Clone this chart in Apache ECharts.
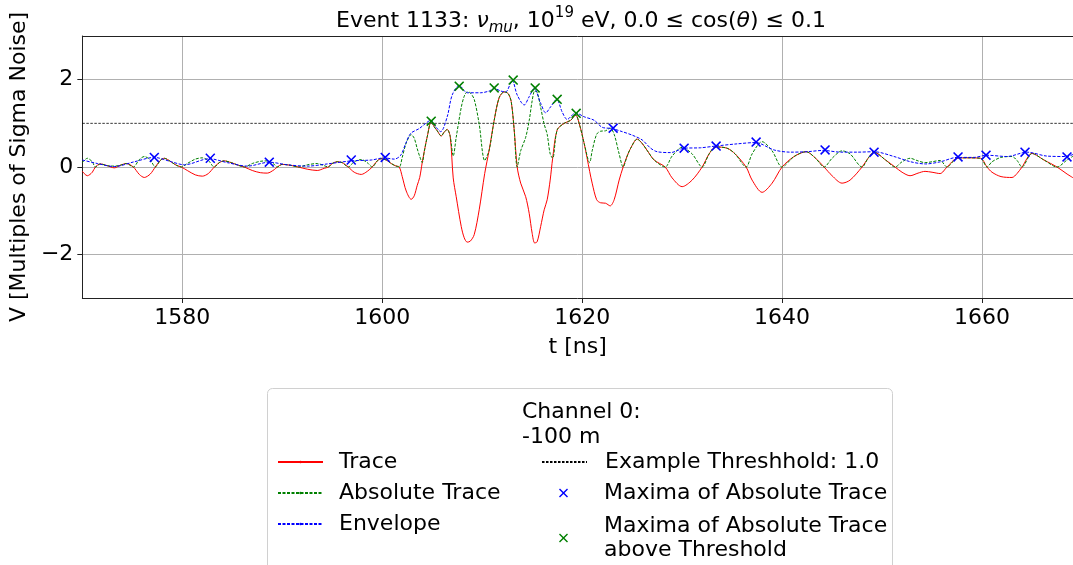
<!DOCTYPE html>
<html><head><meta charset="utf-8">
<script src="https://cdn.jsdelivr.net/npm/echarts@6/dist/echarts.min.js"></script>
<style>html,body{margin:0;padding:0;background:#fff}#c{width:1073px;height:565px}</style>
</head><body><div id="c"></div>
<script>
// ---------- data ----------
const traceTime = [1570.0,1570.5,1571.0,1571.3,1571.8,1572.5,1573.2,1573.8,1574.4,1575.1,1575.7,1576.2,1576.8,1577.3,1577.8,1578.2,1578.8,1579.4,1579.9,1580.5,1581.3,1582.0,1582.6,1583.2,1583.7,1584.2,1584.9,1585.6,1586.2,1587.0,1587.8,1588.5,1589.2,1589.5,1590.0,1590.8,1591.6,1592.5,1593.5,1594.2,1594.6,1595.0,1595.5,1596.0,1596.6,1597.2,1597.9,1598.5,1599.0,1599.5,1599.9,1600.4,1600.9,1601.3,1601.7,1602.0,1602.4,1602.9,1603.2,1603.5,1603.75,1604.0,1604.2,1604.5,1604.9,1605.2,1605.5,1605.9,1606.2,1606.5,1606.8,1607.1,1607.4,1607.9,1608.2,1608.5,1608.8,1609.2,1609.7,1610.25,1610.7,1611.2,1611.7,1612.2,1612.6,1612.9,1613.2,1613.5,1613.85,1614.35,1614.7,1615.0,1615.25,1615.5,1615.85,1616.2,1616.5,1616.8,1617.05,1617.5,1618.2,1618.85,1619.35,1619.7,1620.2,1620.75,1621.0,1621.45,1621.85,1622.35,1622.8,1623.2,1623.7,1624.1,1624.5,1624.85,1625.5,1626.0,1626.5,1627.2,1628.3,1629.0,1630.0,1631.0,1632.0,1632.7,1633.35,1634.5,1635.3,1636.4,1637.0,1638.0,1639.0,1640.0,1641.2,1642.4,1643.35,1644.2,1645.0,1646.0,1646.8,1648.0,1648.6,1649.2,1650.35,1651.3,1652.0,1652.8,1653.6,1654.3,1655.0,1655.8,1656.5,1657.5,1658.5,1659.85,1660.5,1661.0,1661.9,1663.0,1663.5,1664.0,1665.0,1666.2,1667.5,1668.5,1669.2];
const traceValues = [-0.10,-0.20,-0.12,0.00,0.07,0.03,-0.02,0.04,0.08,0.00,-0.17,-0.24,-0.16,0.00,0.15,0.20,0.13,0.04,0.00,-0.08,-0.18,-0.21,-0.15,0.00,0.10,0.14,0.10,0.04,0.00,-0.08,-0.13,-0.14,-0.06,0.00,0.06,0.04,0.00,-0.05,-0.08,-0.03,0.00,0.08,0.12,0.10,0.00,-0.12,-0.17,-0.10,0.00,0.14,0.19,0.16,0.08,0.03,0.00,-0.22,-0.55,-0.74,-0.66,-0.42,-0.24,0.10,0.35,0.69,1.04,0.92,0.83,0.71,0.80,0.86,0.70,-0.25,-0.68,-1.36,-1.62,-1.72,-1.70,-1.55,-0.98,-0.15,0.39,1.07,1.59,1.72,1.68,1.50,0.85,0.00,-0.37,-0.68,-1.06,-1.52,-1.74,-1.71,-1.36,-0.98,-0.75,-0.30,0.20,0.85,1.00,1.07,1.19,1.00,0.54,-0.10,-0.37,-0.75,-0.82,-0.83,-0.89,-0.75,-0.30,0.00,0.25,0.43,0.64,0.54,0.38,0.16,0.00,-0.25,-0.45,-0.30,0.00,0.30,0.46,0.43,0.30,0.00,-0.30,-0.58,-0.37,0.00,0.24,0.35,0.20,0.00,-0.20,-0.37,-0.30,0.00,0.20,0.34,0.16,0.00,-0.12,-0.20,-0.14,-0.10,-0.12,-0.15,0.00,0.20,0.21,0.20,0.00,-0.12,-0.22,-0.24,-0.15,0.00,0.31,0.16,0.00,-0.16,-0.26];
const absTraceValues = [0.10,0.20,0.12,0.00,0.07,0.03,0.02,0.04,0.08,0.00,0.17,0.24,0.16,0.00,0.15,0.20,0.13,0.04,0.00,0.08,0.18,0.21,0.15,0.00,0.10,0.14,0.10,0.04,0.00,0.08,0.13,0.14,0.06,0.00,0.06,0.04,0.00,0.05,0.08,0.03,0.00,0.08,0.12,0.10,0.00,0.12,0.17,0.10,0.00,0.14,0.19,0.16,0.08,0.03,0.00,0.22,0.55,0.74,0.66,0.42,0.24,0.10,0.35,0.69,1.04,0.92,0.83,0.71,0.80,0.86,0.70,0.25,0.68,1.36,1.62,1.72,1.70,1.55,0.98,0.15,0.39,1.07,1.59,1.72,1.68,1.50,0.85,0.00,0.37,0.68,1.06,1.52,1.74,1.71,1.36,0.98,0.75,0.30,0.20,0.85,1.00,1.07,1.19,1.00,0.54,0.10,0.37,0.75,0.82,0.83,0.89,0.75,0.30,0.00,0.25,0.43,0.64,0.54,0.38,0.16,0.00,0.25,0.45,0.30,0.00,0.30,0.46,0.43,0.30,0.00,0.30,0.58,0.37,0.00,0.24,0.35,0.20,0.00,0.20,0.37,0.30,0.00,0.20,0.34,0.16,0.00,0.12,0.20,0.14,0.10,0.12,0.15,0.00,0.20,0.21,0.20,0.00,0.12,0.22,0.24,0.15,0.00,0.31,0.16,0.00,0.16,0.26];
const envelopeTime = [1570.0,1571.5,1573.2,1575.2,1577.2,1578.9,1580.2,1582.7,1584.5,1586.5,1588.7,1590.5,1592.5,1594.5,1596.9,1598.9,1600.2,1601.2,1601.85,1602.35,1602.85,1603.7,1604.35,1604.85,1605.35,1605.85,1606.5,1607.0,1607.7,1608.5,1609.85,1610.7,1611.2,1611.85,1612.35,1613.0,1613.5,1614.2,1614.7,1615.2,1615.85,1616.35,1616.85,1617.45,1618.0,1618.5,1619.35,1620.2,1621.2,1622.0,1623.0,1624.0,1625.0,1626.0,1626.85,1627.5,1628.85,1630.2,1631.85,1633.35,1635.5,1637.35,1639.2,1640.85,1642.5,1644.1,1645.85,1647.5,1649.2,1651.2,1652.85,1654.35,1655.85,1657.5,1659.2,1660.45,1662.5,1664.5,1666.5,1668.5,1669.2];
const envelopeValues = [0.16,0.08,0.01,0.12,0.22,0.12,0.05,0.19,0.10,0.02,0.11,0.05,0.02,0.07,0.14,0.16,0.21,0.18,0.27,0.54,0.77,0.88,1.00,1.07,0.92,0.81,1.15,1.65,1.87,1.70,1.70,1.74,1.80,1.74,1.72,1.98,1.65,1.42,1.61,1.80,1.46,1.24,1.38,1.55,1.26,1.09,1.24,1.15,1.07,0.91,0.88,0.81,0.73,0.62,0.43,0.35,0.33,0.43,0.44,0.48,0.53,0.56,0.39,0.34,0.35,0.38,0.34,0.34,0.35,0.24,0.12,0.07,0.12,0.22,0.22,0.27,0.24,0.34,0.25,0.24,0.30];
const maximaTime = [1577.2,1582.8,1588.7,1596.9,1600.3,1623.1,1630.2,1633.4,1637.4,1644.3,1649.2,1657.6,1660.4,1664.3,1668.5];
const maximaValues = [0.22,0.20,0.11,0.16,0.22,0.89,0.43,0.48,0.57,0.39,0.34,0.23,0.27,0.34,0.23];
const maximaAboveTime = [1604.9,1607.7,1611.2,1613.1,1615.3,1617.5,1619.4];
const maximaAboveValues = [1.05,1.85,1.81,1.99,1.81,1.55,1.23];
const threshold = 1.0;
const xTicks = [1580,1600,1620,1640,1660];
const yTicks = [-2,0,2];
const xMin = 1570, xMax = 1669.1, yMin = -3, yMax = 3;

// ---------- chart ----------
const FONT = 'DejaVu Sans';
const FS = 22;
const zip = (a, b) => a.map((v, i) => [v, b[i]]);
const XPATH = 'path://M0,1.1 L1.1,0 L5,3.9 L8.9,0 L10,1.1 L6.1,5 L10,8.9 L8.9,10 L5,6.1 L1.1,10 L0,8.9 L3.9,5 Z';
const chart = echarts.init(document.getElementById('c'), null, {renderer: 'canvas'});
const legendText = {fontSize: FS, fontFamily: FONT, color: '#000', lineHeight: 24, padding: [0, 0, 0, 11]};
const legendText2 = Object.assign({}, legendText, {padding: [0, 0, 0, 13]});
const axisFont = {fontSize: FS, fontFamily: FONT, color: '#000'};
chart.setOption({
  animation: false,
  backgroundColor: '#fff',
  title: {
    text: 'Event 1133: {i|ν}{sub|mu}, 10{sup|19} eV, 0.0 ≤ cos({i|θ}) ≤ 0.1',
    left: 576, top: 1, textAlign: 'center',
    textStyle: {
      fontSize: FS, fontWeight: 'normal', fontFamily: FONT, color: '#000', lineHeight: 30,
      rich: {
        i: {fontSize: FS, fontStyle: 'italic', fontFamily: FONT, color: '#000'},
        sub: {fontSize: 15, fontStyle: 'italic', fontFamily: FONT, color: '#000', verticalAlign: 'bottom', lineHeight: 15},
        sup: {fontSize: 15, fontFamily: FONT, color: '#000', verticalAlign: 'top', lineHeight: 15}
      }
    }
  },
  grid: {left: 82, top: 36, width: 991, height: 262, show: false, containLabel: false},
  xAxis: [{
    type: 'value', min: xMin, max: xMax,
    name: 't [ns]', nameLocation: 'middle', nameGap: 38,
    nameTextStyle: axisFont,
    axisLine: {show: true, onZero: false, lineStyle: {color: '#222', width: 1}},
    axisTick: {show: true, length: 5, lineStyle: {color: '#222'}, customValues: xTicks},
    axisLabel: Object.assign({customValues: xTicks, margin: 9, formatter: v => String(v)}, axisFont),
    splitLine: {show: true, lineStyle: {color: '#b0b0b0', width: 1}}
  }, {
    type: 'value', min: xMin, max: xMax, position: 'top',
    axisLine: {show: true, onZero: false, lineStyle: {color: '#222', width: 1}},
    axisTick: {show: false}, axisLabel: {show: false}, splitLine: {show: false}
  }],
  yAxis: {
    type: 'value', min: yMin, max: yMax,
    name: 'V [Multiples of Sigma Noise]', nameLocation: 'middle', nameGap: 50,
    nameTextStyle: axisFont,
    axisLine: {show: true, onZero: false, lineStyle: {color: '#222', width: 1}},
    axisTick: {show: true, length: 5, lineStyle: {color: '#222'}, customValues: yTicks},
    axisLabel: Object.assign({customValues: yTicks, margin: 9,
      formatter: v => String(v).replace('-', '\u2212')}, axisFont),
    splitLine: {show: true, lineStyle: {color: '#b0b0b0', width: 1}}
  },
  legend: [
    {data: ['Trace', 'Absolute Trace', 'Envelope'], orient: 'vertical', left: 277, top: 450, padding: 0,
     itemWidth: 45, itemHeight: 3, itemGap: 7, selectedMode: false, textStyle: legendText},
    {data: ['Example Threshhold: 1.0'], orient: 'vertical', left: 541, top: 450, padding: 0,
     itemWidth: 45, itemHeight: 3, selectedMode: false, textStyle: legendText2},
    {data: ['Maxima of Absolute Trace'], orient: 'vertical', left: 559, top: 481, padding: 0,
     itemWidth: 45, itemHeight: 9, selectedMode: false, textStyle: legendText2},
    {data: ['Maxima of Absolute Trace\nabove Threshold'], orient: 'vertical', left: 559, top: 514, padding: 0,
     itemWidth: 45, itemHeight: 9, selectedMode: false, textStyle: legendText2}
  ],
  graphic: [
    {type: 'rect', left: 267, top: 388, z: -1, shape: {width: 625, height: 200, r: 5},
     style: {fill: 'rgba(255,255,255,0.8)', stroke: '#d0d0d0', lineWidth: 1}},
    {type: 'text', left: 522, top: 400, style: {text: 'Channel 0:\n-100 m', font: FS + 'px "DejaVu Sans"', fill: '#000', lineHeight: 25}}
  ],
  series: [
    {name: 'Trace', type: 'line', data: zip(traceTime, traceValues), symbol: 'none', smooth: 0.3, z: 2,
     lineStyle: {color: '#ff0000', width: 1}, itemStyle: {color: '#ff0000'}},
    {name: 'Absolute Trace', type: 'line', data: zip(traceTime, absTraceValues), symbol: 'none', smooth: 0.3, z: 3,
     lineStyle: {color: '#008000', width: 1, type: [3, 1.5]}, itemStyle: {color: '#008000'}},
    {name: 'Envelope', type: 'line', data: zip(envelopeTime, envelopeValues), symbol: 'none', smooth: 0.3, z: 4,
     lineStyle: {color: '#0000ff', width: 1, type: [3, 1.5]}, itemStyle: {color: '#0000ff'}},
    {name: 'Example Threshhold: 1.0', type: 'line', data: [[xMin, threshold], [xMax, threshold]], symbol: 'none', z: 1,
     lineStyle: {color: '#000', width: 0.8, type: [2.5, 1.5]}, itemStyle: {color: '#000', opacity: 0}},
    {name: 'Maxima of Absolute Trace', type: 'scatter', data: zip(maximaTime, maximaValues), symbol: XPATH, symbolSize: 10, symbolKeepAspect: true, z: 5,
     itemStyle: {color: '#0000ff', opacity: 1}},
    {name: 'Maxima of Absolute Trace\nabove Threshold', type: 'scatter', data: zip(maximaAboveTime, maximaAboveValues), symbol: XPATH, symbolSize: 10, symbolKeepAspect: true, z: 5,
     itemStyle: {color: '#008000', opacity: 1}}
  ]
});
</script>
</body></html>
